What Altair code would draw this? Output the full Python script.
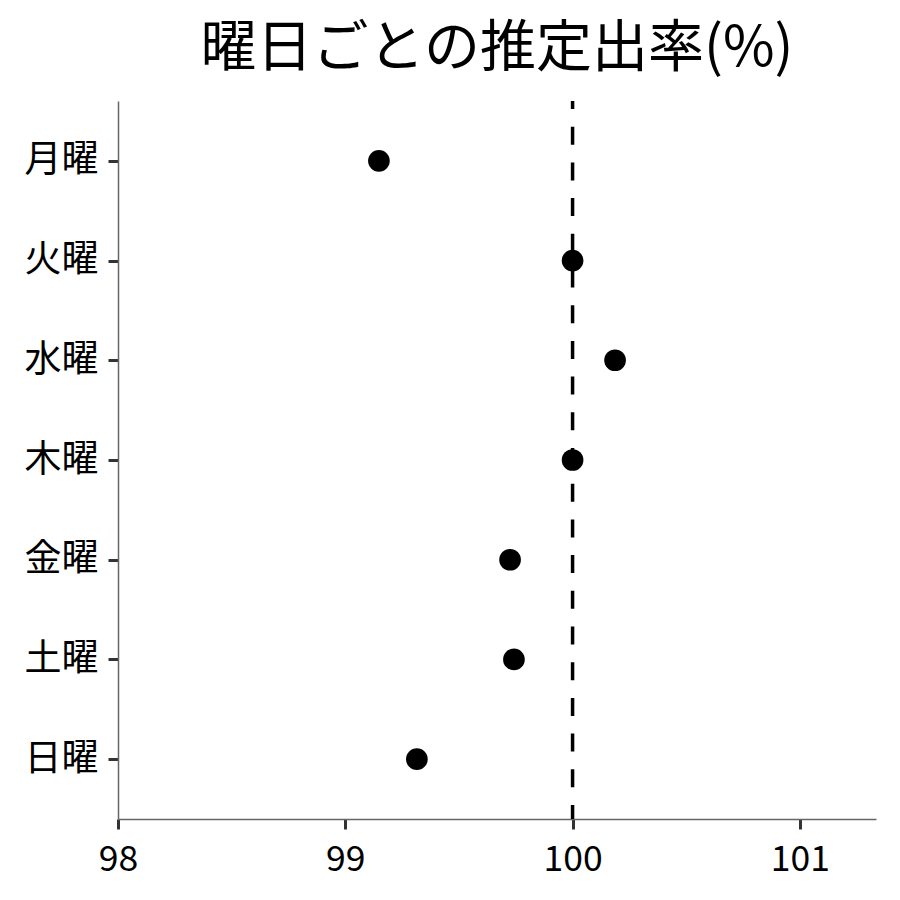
import altair as alt
import pandas as pd

days = ["月曜", "火曜", "水曜", "木曜", "金曜", "土曜", "日曜"]
rates = [99.148, 100.0, 100.187, 100.0, 99.725, 99.742, 99.315]
x_ticks = [98, 99, 100, 101]
ref_value = 100

df = pd.DataFrame({"day": days, "rate": rates})
FONT = "Noto Sans CJK JP"
W, H = 758, 718

points = alt.Chart(df).mark_circle(size=470, color="black", opacity=1).encode(
    x=alt.X("rate:Q",
            scale=alt.Scale(domain=[98, 101.335], nice=False, zero=False),
            axis=alt.Axis(values=x_ticks, title=None, format="d",
                          labelFlush=False, labelPadding=13,
                          labelFontSize=35.5)),
    y=alt.Y("day:N", sort=days,
            scale=alt.Scale(type="point", padding=0.6),
            axis=alt.Axis(title=None, labelPadding=10, labelFontSize=37)),
)

rule = alt.Chart(pd.DataFrame({"v": [ref_value]})).mark_rule(
    color="black", strokeWidth=3.5, strokeDash=[18, 17.7], strokeDashOffset=10
).encode(
    x="v:Q",
    y=alt.value(0),
    y2=alt.value(H),
)

chart = alt.layer(rule, points).properties(
    width=W, height=H,
    title=alt.TitleParams("曜日ごとの推定出率(%)", font=FONT, fontSize=56,
                          fontWeight="normal", color="black", anchor="middle",
                          offset=21),
    autosize=alt.AutoSizeParams(type="none"),
    padding={"left": 110, "top": 93, "right": 16, "bottom": 81},
).configure_view(stroke=None).configure_axis(
    labelFont=FONT, labelColor="black",
    domainColor="#666666", domainWidth=1.5,
    tickColor="#333333", tickWidth=3, tickSize=10,
    grid=False,
)

chart.save("out.html", embed_options={"renderer": "svg", "actions": False})
